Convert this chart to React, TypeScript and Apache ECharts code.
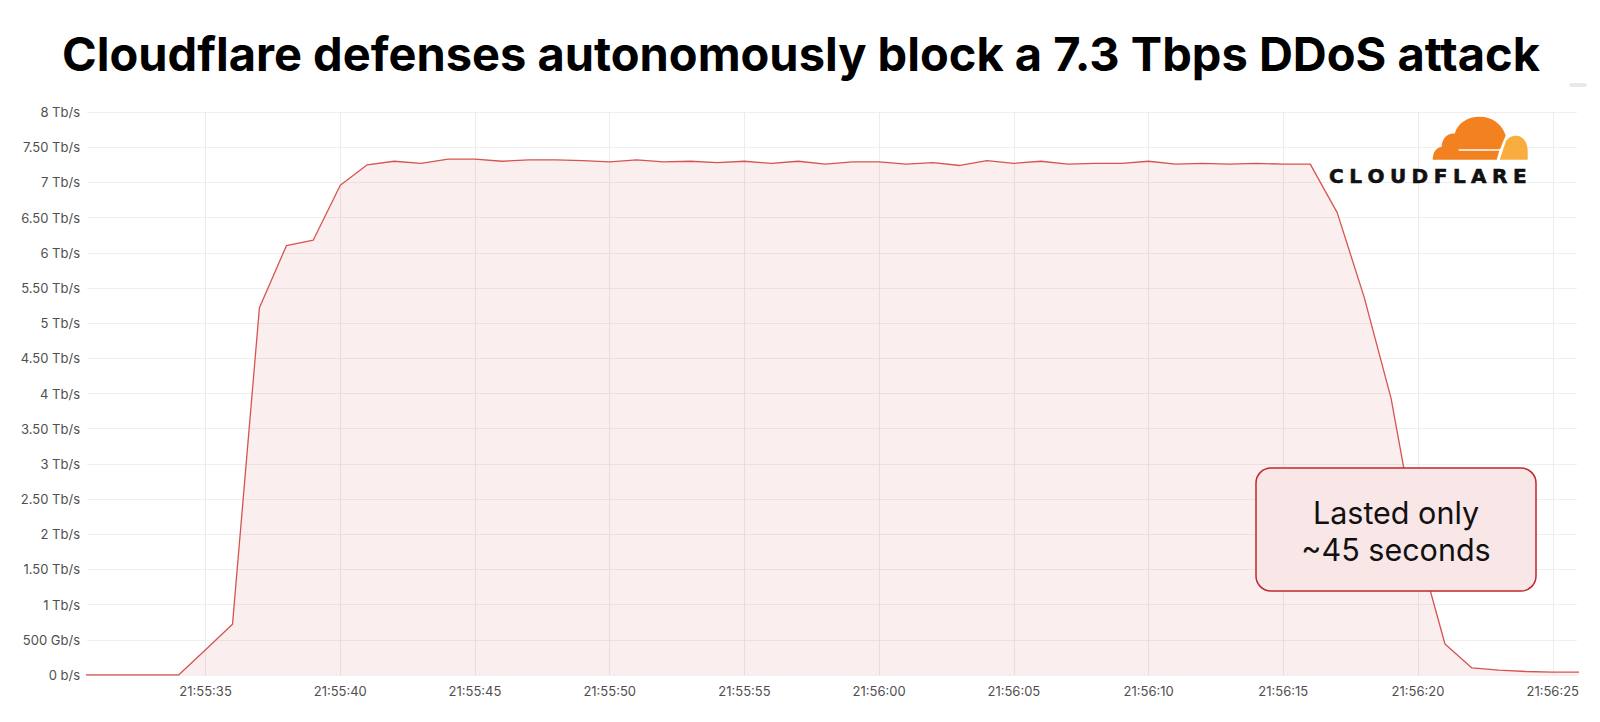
import React, { useEffect, useRef } from 'react';
import * as echarts from 'echarts';

// ---- data ----
const times = [
  '21:55:30', '21:55:31', '21:55:32', '21:55:33', '21:55:34', '21:55:35', '21:55:36', '21:55:37',
  '21:55:38', '21:55:39', '21:55:40', '21:55:41', '21:55:42', '21:55:43', '21:55:44', '21:55:45',
  '21:55:46', '21:55:47', '21:55:48', '21:55:49', '21:55:50', '21:55:51', '21:55:52', '21:55:53',
  '21:55:54', '21:55:55', '21:55:56', '21:55:57', '21:55:58', '21:55:59', '21:56:00', '21:56:01',
  '21:56:02', '21:56:03', '21:56:04', '21:56:05', '21:56:06', '21:56:07', '21:56:08', '21:56:09',
  '21:56:10', '21:56:11', '21:56:12', '21:56:13', '21:56:14', '21:56:15', '21:56:16', '21:56:17',
  '21:56:18', '21:56:19', '21:56:20', '21:56:21', '21:56:22', '21:56:23', '21:56:24', '21:56:25',
  '21:56:26',
];
const throughputTbps = [
  0, 0, 0, 0, 0, 0.36, 0.72, 5.22,
  6.10, 6.18, 6.96, 7.25, 7.30, 7.27, 7.33, 7.33,
  7.30, 7.32, 7.32, 7.31, 7.29, 7.32, 7.29, 7.30,
  7.28, 7.30, 7.27, 7.30, 7.26, 7.29, 7.29, 7.26,
  7.28, 7.24, 7.31, 7.27, 7.30, 7.26, 7.27, 7.27,
  7.30, 7.26, 7.27, 7.26, 7.27, 7.26, 7.26, 6.57,
  5.37, 3.93, 1.83, 0.44, 0.10, 0.07, 0.05, 0.04,
  0.04,
];
const xTickLabels = [
  '21:55:35', '21:55:40', '21:55:45', '21:55:50', '21:55:55', '21:56:00',
  '21:56:05', '21:56:10', '21:56:15', '21:56:20', '21:56:25',
];
const yTickLabels = [
  '0 b/s', '500 Gb/s', '1 Tb/s', '1.50 Tb/s', '2 Tb/s', '2.50 Tb/s', '3 Tb/s', '3.50 Tb/s',
  '4 Tb/s', '4.50 Tb/s', '5 Tb/s', '5.50 Tb/s', '6 Tb/s', '6.50 Tb/s', '7 Tb/s', '7.50 Tb/s', '8 Tb/s',
];
const viewStart = '21:55:30.6';
const viewEnd = '21:56:25.9';
const titleText = 'Cloudflare defenses autonomously block a 7.3 Tbps DDoS attack';
const noteLines = ['Lasted only', '~45 seconds'];
const brandText = 'CLOUDFLARE';

const toSec = (s: string) => {
  const [h, m, sec] = s.split(':').map(Number);
  return h * 3600 + m * 60 + sec;
};

// cloud logo shapes (local coords ~95 x 43)
const cloudDark =
  'M0,43 C0,36 3,31 9,30 C9,22 15,16 22,17 C25,6 35,0 47,0 C60,0 70,8 73,19 C70,25 68,31 66,36 L64,43 Z';
const cloudLight =
  'M67,43 C69,37 71,31 73,25 C75,21 79,19 84,19 C90,19 95,26 95,34 L95,43 Z';
echarts.graphic.registerShape('cfDark', echarts.graphic.extendPath(cloudDark, {}));
echarts.graphic.registerShape('cfLight', echarts.graphic.extendPath(cloudLight, {}));

const letterX = [1329, 1349.2, 1367.4, 1389.9, 1411.6, 1433.7, 1452.9, 1471.1, 1492.1, 1513];

export default function App() {
  const ref = useRef<HTMLDivElement>(null);
  useEffect(() => {
    if (!ref.current) return;
    const chart = echarts.init(ref.current, null, { renderer: 'svg' });
    const data = times.map((t, i) => [toSec(t), throughputTbps[i]]);
    const xTicks = xTickLabels.map(toSec);

    const brand = brandText.split('').map((ch, i) => ({
      type: 'text',
      x: letterX[i],
      y: 175.5,
      z: 20,
      style: {
        text: ch,
        fill: '#111111',
        font: 'bold 20px "DejaVu Sans"',
        textAlign: 'left',
        textVerticalAlign: 'middle',
        stroke: '#111111',
        lineWidth: 0.6,
      },
    }));

    chart.setOption({
      animation: false,
      backgroundColor: '#ffffff',
      grid: { left: 87, right: 23, top: 112, bottom: 47, containLabel: false },
      xAxis: {
        type: 'value',
        min: toSec(viewStart),
        max: toSec(viewEnd),
        axisLine: { show: false },
        axisTick: { show: false, customValues: xTicks },
        axisLabel: {
          customValues: xTicks,
          margin: 9,
          color: '#4f4f4f',
          fontFamily: 'Inter',
          fontSize: 13,
          formatter: (v: number) => {
            const i = xTicks.findIndex((t) => Math.abs(t - v) < 0.01);
            return i >= 0 ? xTickLabels[i] : '';
          },
        },
        splitLine: { show: true, lineStyle: { color: '#ececec', width: 1 } },
      },
      yAxis: {
        type: 'value',
        min: 0,
        max: 8,
        interval: 0.5,
        axisLine: { show: false },
        axisTick: { show: false },
        axisLabel: {
          margin: 7,
          color: '#4f4f4f',
          fontFamily: 'Inter',
          fontSize: 13,
          formatter: (v: number) => yTickLabels[Math.round(v / 0.5)] ?? '',
        },
        splitLine: { show: true, lineStyle: { color: '#efefef', width: 1 } },
      },
      series: [
        {
          type: 'line',
          data,
          showSymbol: false,
          symbol: 'none',
          clip: true,
          lineStyle: { color: '#d65450', width: 1.3 },
          areaStyle: { color: 'rgba(215,70,70,0.13)' },
          z: 2,
        },
      ],
      graphic: [
        {
          type: 'text',
          x: 801,
          y: 53,
          z: 20,
          style: {
            text: titleText,
            fill: '#000000',
            font: 'bold 47px Inter',
            textAlign: 'center',
            textVerticalAlign: 'middle',
          },
        },
        {
          type: 'rect',
          z: 20,
          shape: { x: 1569, y: 83, width: 18, height: 4, r: 2 },
          style: { fill: '#e9e9e9' },
        },
        {
          type: 'cfDark',
          x: 1432.7,
          y: 116.7,
          scaleX: 1,
          scaleY: 1,
          z: 20,
          style: { fill: '#f48120' },
        },
        {
          type: 'cfLight',
          x: 1432.7,
          y: 116.7,
          scaleX: 1,
          scaleY: 1,
          z: 20,
          style: { fill: '#faad3f' },
        },
        {
          type: 'rect',
          z: 21,
          shape: { x: 1432.7 + 26, y: 116.7 + 32.5, width: 42, height: 1.6 },
          style: { fill: '#ffffff' },
        },
        ...brand,
        {
          type: 'rect',
          z: 30,
          shape: { x: 1256, y: 468, width: 280, height: 123, r: 15 },
          style: { fill: '#f9e7e8', stroke: '#c1272d', lineWidth: 1.5 },
        },
        {
          type: 'text',
          x: 1396,
          y: 512,
          z: 31,
          style: {
            text: noteLines[0],
            fill: '#111111',
            font: '30.5px Inter',
            textAlign: 'center',
            textVerticalAlign: 'middle',
          },
        },
        {
          type: 'text',
          x: 1396,
          y: 549,
          z: 31,
          style: {
            text: noteLines[1],
            fill: '#111111',
            font: '30.5px Inter',
            textAlign: 'center',
            textVerticalAlign: 'middle',
          },
        },
      ],
    });
    return () => chart.dispose();
  }, []);
  return (
    <div
      ref={ref}
      style={{ position: 'fixed', left: 0, top: 0, width: 1600, height: 722, background: '#fff' }}
    />
  );
}
